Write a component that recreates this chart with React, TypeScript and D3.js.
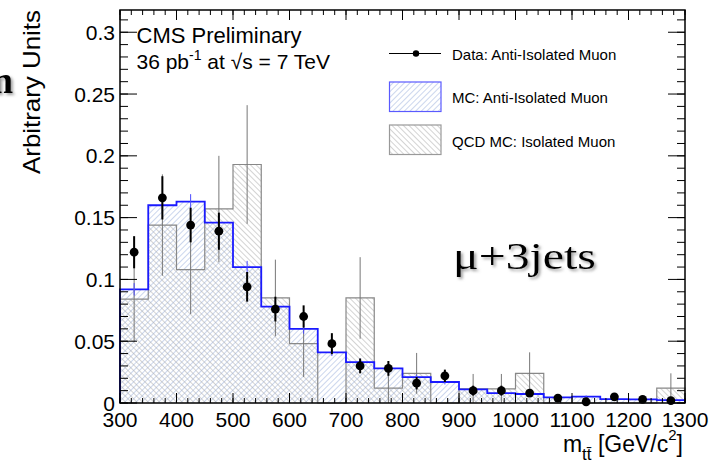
import React from 'react';
import * as d3 from 'd3';

// ---- data ----
const binLow = [300, 350, 400, 450, 500, 550, 600, 650, 700, 750, 800, 850, 900, 950, 1000, 1050, 1100, 1150, 1200, 1250];
const binWidth = 50;
const mcValues = [0.092, 0.160, 0.163, 0.146, 0.110, 0.078, 0.060, 0.041, 0.033, 0.028, 0.021, 0.017, 0.011, 0.008, 0.0073, 0.0046, 0.0051, 0.0032, 0.003, 0.0024];
const mcErr = [0.005, 0.006, 0.006, 0.006, 0.005, 0.004, 0.004, 0.003, 0.003, 0.003, 0.002, 0.002, 0.002, 0.002, 0.002, 0.001, 0.001, 0.001, 0.001, 0.001];
const qcdValues = [0.084, 0.144, 0.108, 0.157, 0.193, 0.085, 0.048, 0, 0.085, 0.012, 0.024, 0, 0.0115, 0.0115, 0.024, 0, 0, 0, 0, 0.012];
const qcdErr = [0.0345, 0.041, 0.036, 0.043, 0.048, 0.031, 0.027, 0, 0.033, 0.012, 0.0165, 0, 0.012, 0.012, 0.017, 0, 0, 0, 0, 0.012];
const dataValues = [0.122, 0.166, 0.144, 0.139, 0.094, 0.076, 0.070, 0.048, 0.030, 0.028, 0.016, 0.022, 0.010, 0.010, 0.008, 0.004, 0.001, 0.005, 0.003, 0.002];
const dataErr = [0.013, 0.0175, 0.014, 0.015, 0.012, 0.010, 0.009, 0.0085, 0.006, 0.006, 0.005, 0.005, 0.004, 0.004, 0.003, 0.002, 0.0015, 0.002, 0.0015, 0.0015];
const xTickLabels = ['300', '400', '500', '600', '700', '800', '900', '1000', '1100', '1200', '1300'];
const yTickLabels = ['0', '0.05', '0.1', '0.15', '0.2', '0.25', '0.3'];
const legendLabels = ['Data: Anti-Isolated Muon', 'MC: Anti-Isolated Muon', 'QCD MC: Isolated Muon'];

const SANS = '"Liberation Sans", Arial, Helvetica, sans-serif';
const SERIF = '"Liberation Serif", "Times New Roman", serif';

export default function App() {
  const W = 710, H = 466;
  const L = 120, R = 685, T = 10, B = 403;
  const x = d3.scaleLinear().domain([300, 1300]).range([L, R]);
  const y = d3.scaleLinear().domain([0, 0.318]).range([B, T]);

  const pts = (vals: number[]) => {
    const p: [number, number][] = [[300, 0]];
    vals.forEach((v, i) => p.push([binLow[i], v]));
    p.push([binLow[binLow.length - 1] + binWidth, vals[vals.length - 1]]);
    p.push([binLow[binLow.length - 1] + binWidth, 0]);
    return p;
  };
  const line = d3.line<[number, number]>().x(d => x(d[0])).y(d => y(d[1])).curve(d3.curveStepAfter);
  const area = d3.area<[number, number]>().x(d => x(d[0])).y0(y(0)).y1(d => y(d[1])).curve(d3.curveStepAfter);
  const areaPts = (vals: number[]) => {
    const p: [number, number][] = vals.map((v, i) => [binLow[i], v]);
    p.push([binLow[binLow.length - 1] + binWidth, vals[vals.length - 1]]);
    return p;
  };

  const yMajor = yTickLabels.map(Number);
  const yMinor = d3.range(0, 0.3155, 0.01);
  const xMajor = xTickLabels.map(Number);
  const xMinor = d3.range(300, 1300.5, 20);

  const centers = binLow.map(b => b + binWidth / 2);

  return (
    <svg width={W} height={H} style={{ position: 'absolute', left: 0, top: 0, background: '#fff' }}>
      <defs>
        <pattern id="hatchBlue" patternUnits="userSpaceOnUse" width="4" height="4" patternTransform="rotate(45)">
          <line x1="0" y1="0" x2="0" y2="4" stroke="#98addb" strokeWidth="1" />
        </pattern>
        <pattern id="hatchGray" patternUnits="userSpaceOnUse" width="4" height="4" patternTransform="rotate(-45)">
          <line x1="0" y1="0" x2="0" y2="4" stroke="#a8a8a8" strokeWidth="1" />
        </pattern>
        <filter id="shadow" x="-20%" y="-20%" width="140%" height="140%">
          <feDropShadow dx="2" dy="2" stdDeviation="1.5" floodColor="#777" floodOpacity="0.7" />
        </filter>
      </defs>
      <rect x={0} y={0} width={W} height={H} fill="#fff" />

      {/* partial slide letter */}
      <text x={-8} y={93} fontFamily={SERIF} fontWeight="bold" fontSize={38} fill="#000" filter="url(#shadow)">n</text>

      {/* fills */}
      <path d={area(areaPts(mcValues)) || ''} fill="url(#hatchBlue)" />
      <path d={area(areaPts(qcdValues)) || ''} fill="url(#hatchGray)" />
      {/* outlines */}
      <path d={line(pts(qcdValues)) || ''} fill="none" stroke="#888" strokeWidth={1.2} />
      <path d={line(pts(mcValues)) || ''} fill="none" stroke="#1a1aff" strokeWidth={1.8} />

      {/* QCD MC errors */}
      {centers.map((c, i) => qcdErr[i] > 0 ? (
        <line key={'q' + i} x1={x(c)} x2={x(c)} y1={y(qcdValues[i] + qcdErr[i])} y2={y(Math.max(0, qcdValues[i] - qcdErr[i]))} stroke="#777" strokeWidth={1} />
      ) : null)}
      {/* MC errors */}
      {centers.map((c, i) => (
        <line key={'m' + i} x1={x(c)} x2={x(c)} y1={y(mcValues[i] + mcErr[i])} y2={y(Math.max(0, mcValues[i] - mcErr[i]))} stroke="#4a4aff" strokeWidth={1} />
      ))}
      {/* data */}
      {centers.map((c, i) => (
        <g key={'d' + i}>
          <line x1={x(c)} x2={x(c)} y1={y(dataValues[i] + dataErr[i])} y2={y(Math.max(0, dataValues[i] - dataErr[i]))} stroke="#000" strokeWidth={2} />
          <circle cx={x(c)} cy={y(dataValues[i])} r={4.4} fill="#000" />
        </g>
      ))}

      {/* frame */}
      <rect x={L} y={T} width={R - L} height={B - T} fill="none" stroke="#000" strokeWidth={1.5} />
      {/* y ticks */}
      {yMinor.map((v, i) => (
        <g key={'ym' + i}>
          <line x1={L} x2={L + 8} y1={y(v)} y2={y(v)} stroke="#000" strokeWidth={1} />
          <line x1={R} x2={R - 8} y1={y(v)} y2={y(v)} stroke="#000" strokeWidth={1} />
        </g>
      ))}
      {yMajor.map((v, i) => (
        <g key={'yM' + i}>
          <line x1={L} x2={L + 17} y1={y(v)} y2={y(v)} stroke="#000" strokeWidth={1} />
          <line x1={R} x2={R - 17} y1={y(v)} y2={y(v)} stroke="#000" strokeWidth={1} />
          <text x={115} y={y(v)} dy="0.36em" textAnchor="end" fontFamily={SANS} fontSize={21} fill="#000">{yTickLabels[i]}</text>
        </g>
      ))}
      {/* x ticks */}
      {xMinor.map((v, i) => (
        <g key={'xm' + i}>
          <line x1={x(v)} x2={x(v)} y1={B} y2={B - 5} stroke="#000" strokeWidth={1} />
          <line x1={x(v)} x2={x(v)} y1={T} y2={T + 5} stroke="#000" strokeWidth={1} />
        </g>
      ))}
      {xMajor.map((v, i) => (
        <g key={'xM' + i}>
          <line x1={x(v)} x2={x(v)} y1={B} y2={B - 10} stroke="#000" strokeWidth={1} />
          <line x1={x(v)} x2={x(v)} y1={T} y2={T + 10} stroke="#000" strokeWidth={1} />
          <text x={x(v)} y={427} textAnchor="middle" fontFamily={SANS} fontSize={21} fill="#000">{xTickLabels[i]}</text>
        </g>
      ))}

      {/* axis titles */}
      <text transform="translate(40,10) rotate(-90)" textAnchor="end" fontFamily={SANS} fontSize={24} textLength={164} lengthAdjust="spacingAndGlyphs" fill="#000">Arbitrary Units</text>
      <text x={683} y={452} textAnchor="end" fontFamily={SANS} fontSize={23} fill="#000">
        m<tspan fontSize={17} dy={8}>tt&#x0304;</tspan><tspan dy={-8}> [GeV/c</tspan><tspan fontSize={15} dy={-12}>2</tspan><tspan dy={12}>]</tspan>
      </text>

      {/* CMS label */}
      <text x={136.5} y={42.5} fontFamily={SANS} fontSize={22} fill="#000">CMS Preliminary</text>
      <text x={136.5} y={69} fontFamily={SANS} fontSize={21} fill="#000">
        36 pb<tspan fontSize={14} dy={-9}>-1</tspan><tspan dy={9}> at </tspan>√s = 7 TeV
      </text>

      {/* legend */}
      <line x1={389} x2={441} y1={53.5} y2={53.5} stroke="#000" strokeWidth={1} />
      <circle cx={416} cy={53.5} r={3.2} fill="#000" />
      <text x={452} y={60} fontFamily={SANS} fontSize={15} fill="#000">{legendLabels[0]}</text>
      <rect x={389.5} y={82} width={51.5} height={29.5} fill="url(#hatchBlue)" stroke="#5a5aff" strokeWidth={1.2} />
      <text x={452} y={103} fontFamily={SANS} fontSize={15} fill="#000">{legendLabels[1]}</text>
      <rect x={389.5} y={125} width={51.5} height={29.5} fill="url(#hatchGray)" stroke="#999" strokeWidth={1.2} />
      <text x={452} y={146.5} fontFamily={SANS} fontSize={15} fill="#000">{legendLabels[2]}</text>

      {/* channel label */}
      <text x={453} y={269} fontFamily={SERIF} fontSize={38} textLength={143} lengthAdjust="spacingAndGlyphs" fill="#000" filter="url(#shadow)">μ+3jets</text>
    </svg>
  );
}
